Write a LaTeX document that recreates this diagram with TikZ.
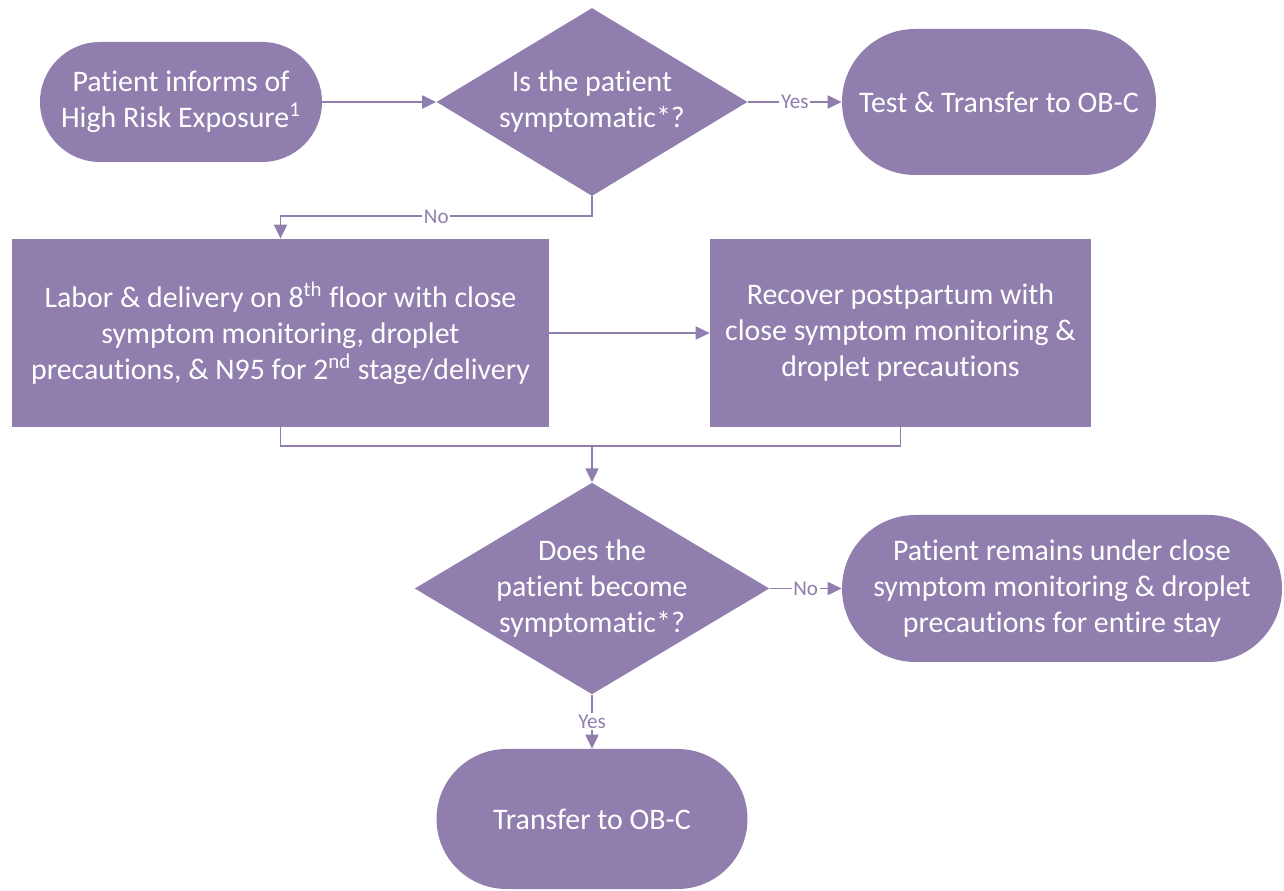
\documentclass[tikz,border=0pt]{standalone}
\usepackage{fontspec}
\setmainfont{Carlito}[Ligatures=NoCommon]
\usetikzlibrary{shapes.geometric, shapes.misc, arrows.meta}
\definecolor{lav}{RGB}{144,126,174}
\tikzset{
    term/.style={rounded rectangle, fill=lav, text=white, align=center, inner sep=0pt, font=\fontsize{17}{20.5}\selectfont},
    box/.style={rectangle, fill=lav, text=white, align=center, inner sep=0pt, font=\fontsize{17}{20.5}\selectfont},
    query/.style={diamond, fill=lav, text=white, align=center, inner sep=0pt, font=\fontsize{17}{20.5}\selectfont},
    link/.style={draw=lav, line width=1.1pt},
    flow/.style={link, -{Triangle[length=2.8mm, width=2.6mm]}},
    tag/.style={fill=white, text=lav, inner sep=1pt, font=\fontsize{12}{14}\selectfont}
}
\begin{document}
\begin{tikzpicture}
    \useasboundingbox (0,0) rectangle (25.68,-17.82);
    \node[term, minimum width=5.64cm, minimum height=2.4cm] (inform) at (3.62,-2.04) {Patient informs of\\High Risk Exposure\textsuperscript{1}};
    \node[query, aspect=1.654, minimum width=6.22cm, minimum height=3.76cm] (sympt) at (11.84,-2.04) {Is the patient\\symptomatic*?};
    \node[term, minimum width=6.28cm, minimum height=2.92cm] (test) at (19.98,-2.04) {Test \& Transfer to OB-C};
    \node[box, minimum width=10.74cm, minimum height=3.76cm] (labor) at (5.61,-6.66) {Labor \& delivery on 8\textsuperscript{th} floor with close\\symptom monitoring, droplet\\precautions, \& N95 for 2\textsuperscript{nd} stage/delivery};
    \node[box, minimum width=7.62cm, minimum height=3.76cm] (recover) at (18.01,-6.66) {Recover postpartum with\\close symptom monitoring \&\\droplet precautions};
    \coordinate (join) at (11.84,-8.92);
    \node[query, aspect=1.676, minimum width=6.94cm, minimum height=4.14cm] (become) at (11.84,-11.77) {Does the\\patient become\\symptomatic*?};
    \node[term, minimum width=8.8cm, minimum height=2.94cm] (remain) at (21.24,-11.77) {Patient remains under close\\symptom monitoring \& droplet\\precautions for entire stay};
    \node[term, minimum width=6.22cm, minimum height=2.8cm] (transfer) at (11.84,-16.38) {Transfer to OB-C};

    \draw[flow] (inform.east) -- (sympt.west);
    \draw[flow] (sympt.east) -- node[tag] {Yes} (test.west);
    \draw[flow] (sympt.south) -- ++(0,-0.4) -| node[tag, pos=0.25] {No} (labor.north);
    \draw[flow] (labor.east) -- (recover.west);
    \draw[link] (labor.south) |- (join) -| (recover.south);
    \draw[flow] (join) -- (become.north);
    \draw[flow] (become.east) -- node[tag] {No} (remain.west);
    \draw[flow] (become.south) -- node[tag] {Yes} (transfer.north);
\end{tikzpicture}
\end{document}
